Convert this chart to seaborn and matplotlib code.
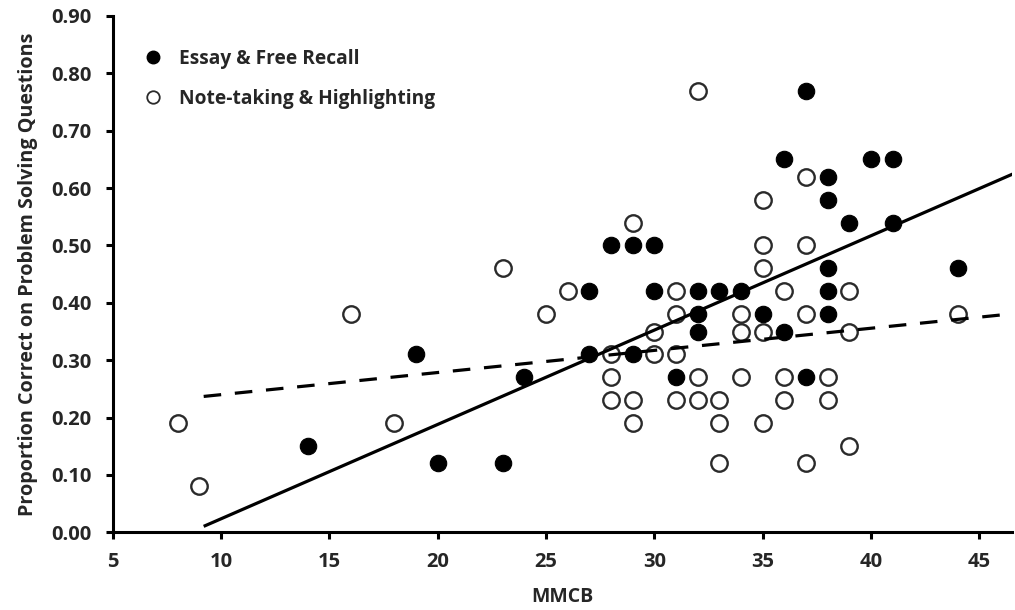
import matplotlib
matplotlib.use('Agg')
import matplotlib.pyplot as plt
import numpy as np
import pandas as pd
import seaborn as sns
from matplotlib.lines import Line2D

# Essay & Free Recall (filled markers)
essay_x = [14, 19, 20, 23, 24, 27, 27, 28, 29, 30, 29, 30, 32, 33, 34, 32, 35, 32, 36, 31,
           37, 36, 40, 41, 38, 38, 39, 41, 38, 44, 38, 38, 37]
essay_y = [0.15, 0.31, 0.12, 0.12, 0.27, 0.42, 0.31, 0.50, 0.50, 0.50, 0.31, 0.42, 0.42, 0.42, 0.42,
           0.38, 0.38, 0.35, 0.35, 0.27, 0.77, 0.65, 0.65, 0.65, 0.62, 0.58, 0.54, 0.54, 0.46, 0.46,
           0.42, 0.38, 0.27]

# Note-taking & Highlighting (open markers)
notes_x = [8, 9, 16, 18, 23, 25, 26, 29, 32, 35, 35, 31, 31, 34, 30, 34, 35, 28, 30, 31,
           28, 32, 34, 36, 28, 29, 31, 32, 33, 36, 29, 33, 35, 33, 37, 35, 37, 36, 39, 37,
           44, 39, 38, 38, 39, 37]
notes_y = [0.19, 0.08, 0.38, 0.19, 0.46, 0.38, 0.42, 0.54, 0.77, 0.50, 0.46, 0.42, 0.38, 0.38,
           0.35, 0.35, 0.35, 0.31, 0.31, 0.31, 0.27, 0.27, 0.27, 0.27, 0.23, 0.23, 0.23, 0.23,
           0.23, 0.23, 0.19, 0.19, 0.19, 0.12, 0.62, 0.58, 0.50, 0.42, 0.42, 0.38, 0.38, 0.35,
           0.27, 0.23, 0.15, 0.12]

# linear trend lines: (slope, intercept)
essay_fit = (0.01645, -0.141)
notes_fit = (0.00386, 0.2013)
fit_range = (9.2, 47.0)

sns.set_style('white')
plt.rcParams['font.family'] = ['Open Sans', 'DejaVu Sans']
plt.rcParams['font.weight'] = 'bold'

fig = plt.figure(figsize=(10.15, 6.1), dpi=100)
ax = fig.add_axes([0.111, 0.1274, 0.886, 0.8464])

essay = pd.DataFrame({'x': essay_x, 'y': essay_y})
notes = pd.DataFrame({'x': notes_x, 'y': notes_y})

sns.scatterplot(data=essay, x='x', y='y', ax=ax, s=140, color='black',
                edgecolor='black', linewidth=0.8, zorder=2)
sns.scatterplot(data=notes, x='x', y='y', ax=ax, s=140, facecolor='white',
                edgecolor='#2a2a2a', linewidth=1.7, zorder=2)

xs = np.array(fit_range)
ax.plot(xs, essay_fit[0] * xs + essay_fit[1], color='black', lw=2.3, zorder=3,
        solid_capstyle='butt')
ax.plot(xs, notes_fit[0] * xs + notes_fit[1], color='black', lw=2.3, zorder=3,
        dashes=(5.5, 4.3))

ax.set_xlim(5, 46.5)
ax.set_ylim(0, 0.9)
ax.set_xticks(range(5, 50, 5))
ax.set_yticks(np.arange(0, 0.91, 0.1))
ax.set_yticklabels([f'{v:.2f}' for v in np.arange(0, 0.91, 0.1)])

for side in ['top', 'right']:
    ax.spines[side].set_visible(False)
for side in ['left', 'bottom']:
    ax.spines[side].set_linewidth(2.2)
    ax.spines[side].set_color('black')
ax.tick_params(axis='both', direction='out', length=5, width=2.2, color='black',
               labelsize=14.5, left=True, bottom=True)
ax.tick_params(axis='x', pad=9)
ax.tick_params(axis='y', pad=10)
for lab in ax.get_xticklabels() + ax.get_yticklabels():
    lab.set_fontweight('bold')

ax.set_xlabel('MMCB', fontsize=14, fontweight='bold', labelpad=11)
ax.set_ylabel('Proportion Correct on Problem Solving Questions', fontsize=14.2,
              fontweight='bold', labelpad=10)

handles = [
    Line2D([], [], marker='o', linestyle='none', markersize=9, markerfacecolor='black',
           markeredgecolor='black'),
    Line2D([], [], marker='o', linestyle='none', markersize=9, markerfacecolor='white',
           markeredgecolor='#2a2a2a', markeredgewidth=1.3),
]
ax.legend(handles, ['Essay & Free Recall', 'Note-taking & Highlighting'], loc='upper left',
          bbox_to_anchor=(0.004, 0.97), frameon=False, handletextpad=0.35, labelspacing=1.05,
          prop={'size': 13.8, 'weight': 'bold'})

fig.savefig('out.png', dpi=100)
